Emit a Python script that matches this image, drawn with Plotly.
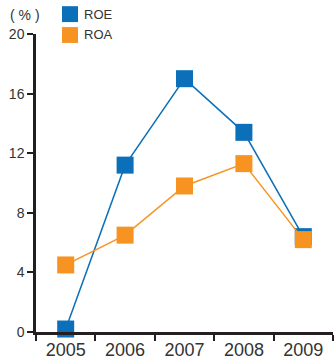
import plotly.graph_objects as go

years = ["2005", "2006", "2007", "2008", "2009"]
roe = [0.2, 11.2, 17.0, 13.4, 6.4]
roa = [4.5, 6.5, 9.8, 11.3, 6.2]
y_ticks = [0, 4, 8, 12, 16, 20]

BLUE = "#0b6fb9"
ORANGE = "#f79421"
AXIS = "#231f20"
FONT = "Liberation Sans, Arial, sans-serif"

fig = go.Figure()
fig.add_trace(go.Scatter(x=years, y=roe, name="ROE", mode="lines+markers",
                         line=dict(color=BLUE, width=1.5),
                         marker=dict(symbol="square", size=17, color=BLUE),
                         cliponaxis=False, showlegend=False))
fig.add_trace(go.Scatter(x=years, y=roa, name="ROA", mode="lines+markers",
                         line=dict(color=ORANGE, width=1.5),
                         marker=dict(symbol="square", size=17, color=ORANGE),
                         cliponaxis=False, showlegend=False))

# legend (manual)
for i, (name, col) in enumerate([("ROE", BLUE), ("ROA", ORANGE)]):
    y0 = 6 + i * 21
    fig.add_shape(type="rect", xref="paper", yref="paper",
                  x0=(62 - 36) / 297, x1=(78 - 36) / 297,
                  y0=(361 - 27 - y0 - 16) / 300, y1=(361 - 27 - y0) / 300,
                  fillcolor=col, line=dict(width=0))
    fig.add_annotation(x=(82 - 36) / 297, y=(361 - 27 - y0 - 8) / 300,
                       xref="paper", yref="paper", text=name, showarrow=False,
                       xanchor="left", yanchor="middle",
                       font=dict(family=FONT, size=13, color="#333333"))

fig.add_annotation(x=(8 - 36) / 297, y=(361 - 27 - 15) / 300, xref="paper", yref="paper",
                   text="( % )", showarrow=False, xanchor="left", yanchor="middle",
                   font=dict(family=FONT, size=14, color="#333333"))

fig.update_layout(
    width=334, height=361,
    margin=dict(l=36, r=1, t=34, b=27),
    paper_bgcolor="white", plot_bgcolor="white",
    xaxis=dict(type="category", range=[-0.5, 4.5], showgrid=False,
               showline=True, linecolor=AXIS, linewidth=2.5,
               ticks="outside", tickson="boundaries", ticklen=6, tickwidth=2,
               tickcolor=AXIS, tickfont=dict(family=FONT, size=18, color="#333333")),
    yaxis=dict(range=[0, 20], tickvals=y_ticks, showgrid=False, zeroline=False,
               showline=True, linecolor=AXIS, linewidth=2.5,
               ticks="outside", ticklen=6, tickwidth=2, tickcolor=AXIS,
               tickfont=dict(family=FONT, size=14, color="#333333")),
)

fig.write_html("out.html", config={"displayModeBar": False},
               post_script="document.body.style.margin='0';document.body.style.padding='0';")
